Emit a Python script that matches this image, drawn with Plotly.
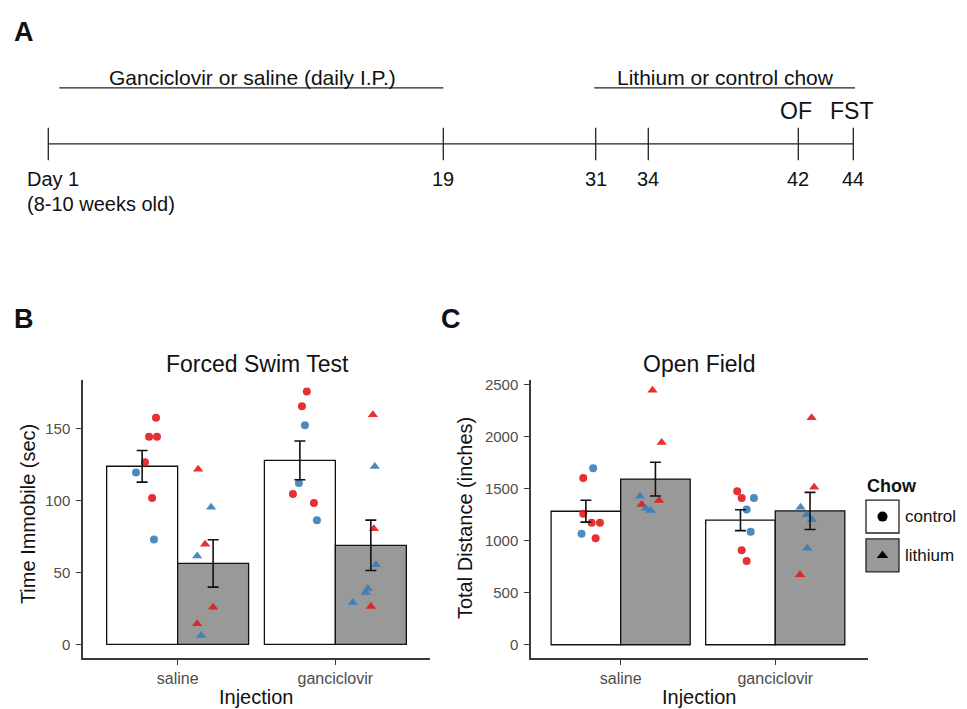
import plotly.graph_objects as go

# The page body has an 8px margin; lay out in screen pixels and convert.
SW, SH = 967, 709          # window size
OFF = 8
W, H = SW - OFF, SH - OFF   # figure size (reaches the window's right/bottom edge)
FONT = "Liberation Sans, Arial, Helvetica, sans-serif"
RED = "#E41A1C"
BLUE = "#377EB8"
GREY = "#999999"
AXC = "#3a3a3a"
TICKC = "#4D4D4D"


def X(p):
    return (p - OFF) / W


def Y(p):
    return 1 - (p - OFF) / H


# ---------------- data ----------------
injections = ["saline", "ganciclovir"]
chows = ["control", "lithium"]

# Panel A: timeline
timeline_labels = ["Day 1", "19", "31", "34", "42", "44"]
timeline_pos = [48.3, 443.3, 595.7, 648.3, 798.3, 853.3]   # schematic positions
timeline_events = ["", "", "", "", "OF", "FST"]
span_labels = ["Ganciclovir or saline (daily I.P.)", "Lithium or control chow"]
span_start = [59.3, 594.3]
span_end = [443.3, 855.0]

# Panel B: Forced Swim Test, time immobile (sec)
fst_mean_control = [123.9, 128.0]
fst_se_control = [11.0, 13.5]
fst_mean_lithium = [56.3, 68.9]
fst_se_lithium = [16.5, 17.5]

fst_sal_ctl = [157.6, 144.4, 144.4, 126.7, 119.6, 101.8, 73.0]
fst_sal_ctl_grp = ["r", "r", "r", "r", "b", "r", "b"]
fst_sal_ctl_jit = [0.088, 0.044, 0.094, 0.018, -0.039, 0.063, 0.075]

fst_sal_li = [121.9, 95.4, 69.6, 61.5, 25.8, 14.3, 6.2]
fst_sal_li_grp = ["r", "b", "r", "b", "r", "r", "b"]
fst_sal_li_jit = [-0.095, -0.013, -0.051, -0.101, 0.0, -0.101, -0.076]

fst_gan_ctl = [176.0, 165.7, 152.5, 112.2, 104.6, 98.4, 86.4]
fst_gan_ctl_grp = ["r", "r", "b", "b", "r", "r", "b"]
fst_gan_ctl_jit = [0.044, 0.013, 0.032, -0.006, -0.044, 0.089, 0.108]

fst_gan_li = [159.8, 123.7, 80.4, 55.3, 38.9, 36.0, 29.2, 26.3]
fst_gan_li_grp = ["r", "b", "r", "b", "b", "b", "b", "r"]
fst_gan_li_jit = [0.013, 0.025, 0.019, 0.032, -0.019, -0.032, -0.114, 0.0]

# Panel C: Open Field, total distance (inches)
of_mean_control = [1283, 1197]
of_se_control = [105, 100]
of_mean_lithium = [1592, 1286]
of_se_lithium = [162, 178]

of_sal_ctl = [1697, 1602, 1258, 1172, 1172, 1067, 1023]
of_sal_ctl_grp = ["b", "r", "r", "r", "r", "b", "r"]
of_sal_ctl_jit = [0.047, -0.017, -0.017, 0.037, 0.091, -0.028, 0.063]

of_sal_li = [2446, 1943, 1427, 1386, 1347, 1310, 1290]
of_sal_li_grp = ["r", "r", "b", "r", "r", "b", "b"]
of_sal_li_jit = [-0.019, 0.040, -0.100, 0.023, -0.089, -0.061, -0.031]

of_gan_ctl = [1475, 1411, 1411, 1300, 1086, 908, 806]
of_gan_ctl_grp = ["r", "r", "b", "b", "b", "r", "r"]
of_gan_ctl_jit = [-0.021, 0.008, 0.087, 0.040, 0.066, 0.008, 0.040]

of_gan_li = [2182, 1513, 1322, 1250, 1200, 927, 672]
of_gan_li_grp = ["r", "r", "b", "b", "b", "b", "r"]
of_gan_li_jit = [0.010, 0.027, -0.061, -0.022, 0.012, -0.018, -0.065]

fst_ticks = [0, 50, 100, 150]
of_ticks = [0, 500, 1000, 1500, 2000, 2500]

# ---------------- figure ----------------
fig = go.Figure()
DODGE = {"control": -0.225, "lithium": 0.225}
BARW = 0.45
COLMAP = {"r": RED, "b": BLUE}
SYM = {"control": "circle", "lithium": "triangle-up"}


def add_panel(xa, ya, means, ses, points):
    for chow, fill in (("control", "white"), ("lithium", GREY)):
        xs = [i + 1 + DODGE[chow] for i in range(len(injections))]
        fig.add_trace(go.Bar(x=xs, y=means[chow], width=BARW, xaxis=xa, yaxis=ya,
                             marker=dict(color=fill, line=dict(color="#111111", width=1.3)),
                             showlegend=False, hoverinfo="skip"))
    for (inj_i, chow), (vals, grps, jit) in points.items():
        xs = [inj_i + 1 + DODGE[chow] + j for j in jit]
        fig.add_trace(go.Scatter(x=xs, y=vals, mode="markers", xaxis=xa, yaxis=ya,
                                 marker=dict(symbol=SYM[chow], size=8 if chow == "control" else 9,
                                             color=[COLMAP[g] for g in grps], opacity=0.9,
                                             line=dict(width=0)),
                                 showlegend=False, hoverinfo="skip"))
    for chow in ("control", "lithium"):
        xs = [i + 1 + DODGE[chow] for i in range(len(injections))]
        fig.add_trace(go.Scatter(x=xs, y=means[chow], mode="markers", xaxis=xa, yaxis=ya,
                                 marker=dict(size=1, color="rgba(0,0,0,0)"),
                                 error_y=dict(type="data", array=ses[chow], visible=True,
                                              color="#111111", thickness=1.6, width=5.5),
                                 showlegend=False, hoverinfo="skip"))


add_panel("x", "y",
          {"control": fst_mean_control, "lithium": fst_mean_lithium},
          {"control": fst_se_control, "lithium": fst_se_lithium},
          {(0, "control"): (fst_sal_ctl, fst_sal_ctl_grp, fst_sal_ctl_jit),
           (0, "lithium"): (fst_sal_li, fst_sal_li_grp, fst_sal_li_jit),
           (1, "control"): (fst_gan_ctl, fst_gan_ctl_grp, fst_gan_ctl_jit),
           (1, "lithium"): (fst_gan_li, fst_gan_li_grp, fst_gan_li_jit)})

add_panel("x2", "y2",
          {"control": of_mean_control, "lithium": of_mean_lithium},
          {"control": of_se_control, "lithium": of_se_lithium},
          {(0, "control"): (of_sal_ctl, of_sal_ctl_grp, of_sal_ctl_jit),
           (0, "lithium"): (of_sal_li, of_sal_li_grp, of_sal_li_jit),
           (1, "control"): (of_gan_ctl, of_gan_ctl_grp, of_gan_ctl_jit),
           (1, "lithium"): (of_gan_li, of_gan_li_grp, of_gan_li_jit)})

# legend markers (hidden pixel-unit axis x3/y3)
LEG_X = 882.5
LEG_Y = {"control": 515.5, "lithium": 554.5}
for chow in chows:
    fig.add_trace(go.Scatter(x=[LEG_X], y=[LEG_Y[chow]], mode="markers", xaxis="x3", yaxis="y3",
                             marker=dict(symbol=SYM[chow], size=10, color="black"),
                             showlegend=False, hoverinfo="skip"))

shapes = []
annotations = []
for chow, fill in (("control", "white"), ("lithium", GREY)):
    yc = LEG_Y[chow]
    shapes.append(dict(type="rect", xref="x3", yref="y3", x0=866, x1=899, y0=yc - 16.5, y1=yc + 16.5,
                       fillcolor=fill, line=dict(color="#222222", width=1.3), layer="below"))
    annotations.append(dict(text=chow, xref="x3", yref="y3", x=903, y=yc, xanchor="left",
                            yanchor="middle", showarrow=False, font=dict(family=FONT, size=17, color="#111")))
annotations.append(dict(text="<b>Chow</b>", xref="x3", yref="y3", x=865, y=485, xanchor="left",
                        yanchor="middle", showarrow=False, font=dict(family=FONT, size=18, color="#111")))

# timeline (hidden pixel-unit axis x4/y4)
TL_Y = 140.7
SPAN_Y = 84.3
shapes.append(dict(type="line", xref="x4", yref="y4", x0=timeline_pos[0], x1=timeline_pos[-1],
                   y0=TL_Y, y1=TL_Y, line=dict(color="#222", width=1.3)))
for lab, xp, ev in zip(timeline_labels, timeline_pos, timeline_events):
    shapes.append(dict(type="line", xref="x4", yref="y4", x0=xp, x1=xp, y0=124.5, y1=157,
                       line=dict(color="#222", width=1.3)))
    if lab.startswith("Day"):
        annotations.append(dict(text=lab, xref="x4", yref="y4", x=25, y=176, xanchor="left",
                                yanchor="middle", showarrow=False, font=dict(family=FONT, size=20, color="#111")))
        annotations.append(dict(text="(8-10 weeks old)", xref="x4", yref="y4", x=25, y=201.5,
                                xanchor="left", yanchor="middle", showarrow=False,
                                font=dict(family=FONT, size=20, color="#111")))
    else:
        annotations.append(dict(text=lab, xref="x4", yref="y4", x=xp, y=176, xanchor="center",
                                yanchor="middle", showarrow=False, font=dict(family=FONT, size=20, color="#111")))
    if ev:
        annotations.append(dict(text=ev, xref="x4", yref="y4", x=xp - 2, y=108, xanchor="center",
                                yanchor="middle", showarrow=False, font=dict(family=FONT, size=23, color="#111")))
for lab, x0, x1 in zip(span_labels, span_start, span_end):
    shapes.append(dict(type="line", xref="x4", yref="y4", x0=x0, x1=x1, y0=SPAN_Y, y1=SPAN_Y,
                       line=dict(color="#222", width=1.3)))
    annotations.append(dict(text=lab, xref="x4", yref="y4", x=(x0 + x1) / 2 + 1, y=74, xanchor="center",
                            yanchor="middle", showarrow=False, font=dict(family=FONT, size=21, color="#111")))


def px(xp, yp, text, size, **kw):
    d = dict(text=text, xref="paper", yref="paper", x=X(xp), y=Y(yp), showarrow=False,
             xanchor="center", yanchor="middle", font=dict(family=FONT, size=size, color="#111"))
    d.update(kw)
    annotations.append(d)


px(24, 28, "<b>A</b>", 27)
px(24, 317, "<b>B</b>", 27)
px(451, 317, "<b>C</b>", 27)
px(257, 362, "Forced Swim Test", 23)
px(699, 362, "Open Field", 23)
px(28, 513, "Time Immobile (sec)", 20, textangle=-90)
px(465, 517, "Total Distance (inches)", 20, textangle=-90)
px(256, 697, "Injection", 20)
px(699, 697, "Injection", 20)

YDOM = [Y(658), Y(378)]
axis_common = dict(showgrid=False, zeroline=False, showline=True, linecolor=AXC, linewidth=1.5,
                   ticks="outside", ticklen=5, tickwidth=1.3, tickcolor=AXC, fixedrange=True)

fig.update_layout(
    width=W, height=H, margin=dict(l=0, r=0, t=0, b=0),
    paper_bgcolor="white", plot_bgcolor="white", barmode="overlay", showlegend=False,
    font=dict(family=FONT),
    xaxis=dict(domain=[X(83), X(430)], range=[0.4, 2.6], tickvals=[1, 2], ticktext=injections,
               anchor="y", tickfont=dict(size=16, color=TICKC, family=FONT), **axis_common),
    yaxis=dict(domain=YDOM, range=[-9.7, 184], tickvals=fst_ticks, anchor="x",
               tickfont=dict(size=15, color=TICKC, family=FONT), ticklabelstandoff=3, **axis_common),
    xaxis2=dict(domain=[X(531), X(868)], range=[0.42, 2.6], tickvals=[1, 2], ticktext=injections,
                anchor="y2", tickfont=dict(size=16, color=TICKC, family=FONT), **axis_common),
    yaxis2=dict(domain=YDOM, range=[-130, 2545], tickvals=of_ticks, anchor="x2",
                tickfont=dict(size=15, color=TICKC, family=FONT), ticklabelstandoff=3, **axis_common),
    xaxis3=dict(domain=[X(850), 1.0], range=[850, SW], visible=False, fixedrange=True, anchor="y3"),
    yaxis3=dict(domain=[Y(600), Y(460)], range=[600, 460], visible=False, fixedrange=True, anchor="x3"),
    xaxis4=dict(domain=[0, 1], range=[OFF, SW], visible=False, fixedrange=True, anchor="y4"),
    yaxis4=dict(domain=[Y(230), 1], range=[230, OFF], visible=False, fixedrange=True, anchor="x4"),
    shapes=shapes, annotations=annotations,
)

fig.write_html("out.html")
